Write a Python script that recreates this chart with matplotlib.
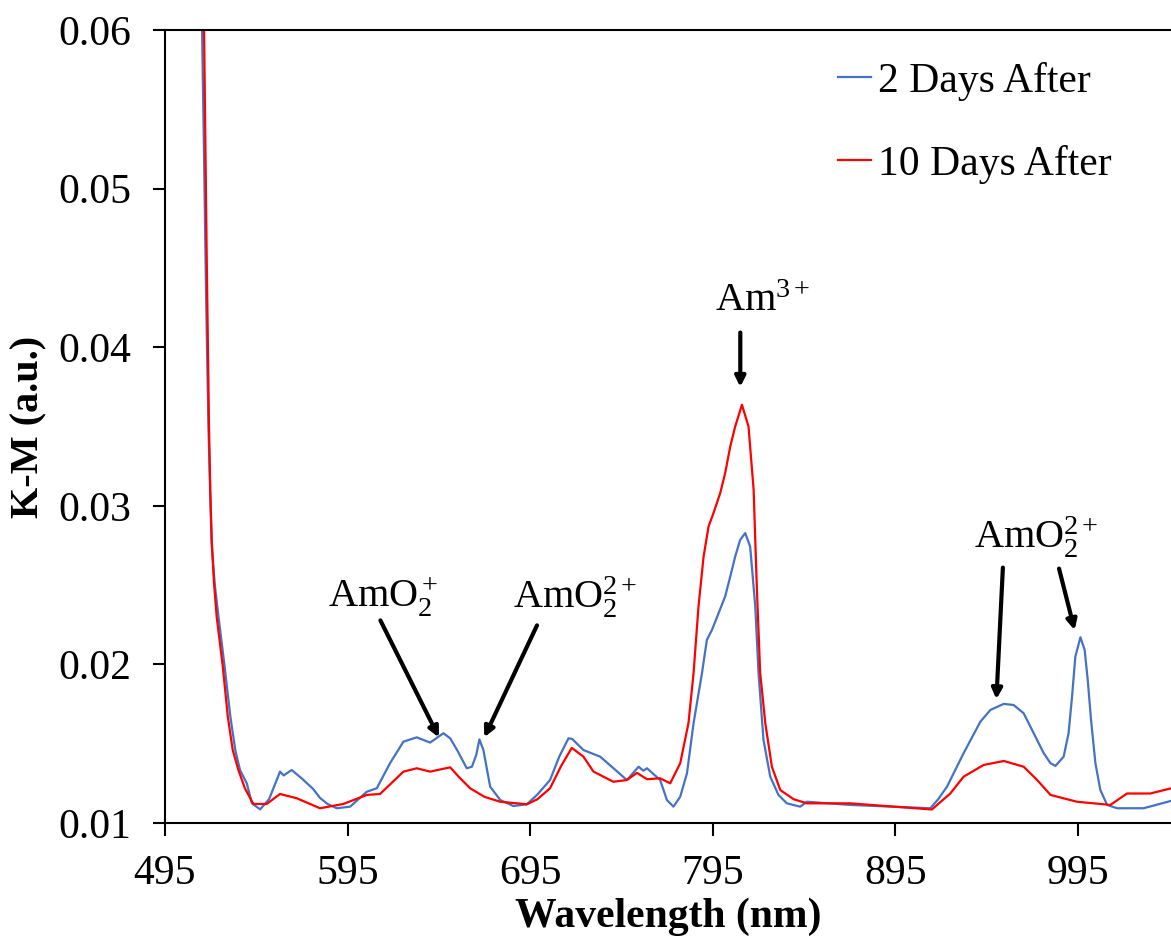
import matplotlib
matplotlib.use("Agg")
import matplotlib.pyplot as plt

plt.rcParams["font.family"] = ["Liberation Serif", "DejaVu Serif"]
plt.rcParams["mathtext.fontset"] = "custom"
plt.rcParams["mathtext.rm"] = "Liberation Serif"
plt.rcParams["mathtext.it"] = "Liberation Serif:italic"

# 2 days after (wavelength nm, K-M)
wl_2d = [514.5, 515.3, 516.4, 517.5, 518.8, 519.8, 520.6, 522.3, 524.3, 527.6,
         530.8, 533.5, 536.1, 539.8, 542.6, 547.1, 552.0, 558.0, 560.0, 564.4,
         570.0, 576.1, 579.9, 584.0, 589.1, 596.4, 605.5, 611.0, 618.3, 625.6,
         632.9, 640.2, 647.5, 651.2, 655.0, 660.3, 663.1, 665.5, 667.2, 669.4,
         673.1, 678.6, 685.8, 693.2, 699.0, 705.9, 711.0, 716.0, 718.0, 724.2,
         733.4, 748.0, 754.4, 757.0, 759.0, 766.2, 769.9, 773.5, 777.2, 780.9,
         784.5, 789.1, 791.8, 794.6, 798.2, 801.8, 804.6, 807.3, 810.0, 812.8,
         815.5, 818.3, 820.1, 822.8, 826.5, 831.0, 835.6, 842.9, 846.6, 870.3,
         914.2, 918.5, 923.3, 932.4, 941.6, 947.1, 954.4, 959.8, 965.3, 970.8,
         976.3, 980.0, 982.7, 987.2, 989.9, 991.8, 993.6, 996.4, 998.7, 1000.4,
         1002.2, 1004.6, 1007.3, 1011.0, 1016.5, 1031.0, 1046.2]
km_2d = [0.075, 0.060, 0.052, 0.0433, 0.035, 0.0305, 0.0275, 0.0250, 0.02301, 0.01992,
         0.01671, 0.0146, 0.01334, 0.0125, 0.01124, 0.01086, 0.0115, 0.01324, 0.0130, 0.01334,
         0.0128, 0.01215, 0.01158, 0.0112, 0.01093, 0.01103, 0.01197, 0.01219, 0.01378, 0.01513,
         0.0154, 0.01507, 0.01566, 0.01534, 0.0146, 0.01345, 0.01355, 0.0143, 0.01527, 0.0146,
         0.01229, 0.01145, 0.01107, 0.01118, 0.0118, 0.01271, 0.0142, 0.01534, 0.0153, 0.0146,
         0.01418, 0.01271, 0.01355, 0.0133, 0.01345, 0.01271, 0.01145, 0.01103, 0.01166, 0.01314,
         0.01629, 0.01944, 0.02155, 0.02218, 0.02323, 0.02428, 0.02554, 0.0268, 0.02785, 0.02828,
         0.02743, 0.02365, 0.01944, 0.01524, 0.01292, 0.01177, 0.01124, 0.01103, 0.01134, 0.01114,
         0.01093, 0.0115, 0.01229, 0.0144, 0.01639, 0.01713, 0.01751, 0.01744, 0.01692, 0.01566,
         0.0144, 0.01377, 0.0136, 0.01418, 0.01566, 0.01797, 0.02049, 0.02171, 0.02091, 0.01902,
         0.0165, 0.01377, 0.01208, 0.01114, 0.01093, 0.01093, 0.0114]

# 10 days after
wl_10d = [515.5, 516.4, 517.8, 519.1, 519.8, 520.6, 521.8, 523.3, 526.6, 529.4,
          532.1, 535.2, 538.8, 543.4, 550.7, 558.0, 567.2, 579.9, 592.7, 605.5,
          612.8, 625.6, 632.9, 640.2, 651.2, 656.0, 662.1, 670.0, 678.6, 693.2,
          699.0, 705.9, 712.0, 717.8, 724.2, 729.7, 740.6, 748.0, 753.5, 759.0,
          766.2, 771.7, 777.2, 781.7, 784.5, 787.2, 790.0, 792.7, 795.4, 799.1,
          801.8, 804.6, 807.3, 811.0, 814.6, 817.4, 819.2, 821.0, 823.8, 827.4,
          832.0, 839.3, 846.6, 870.3, 915.0, 925.1, 932.4, 943.4, 954.4, 965.3,
          972.7, 980.0, 994.5, 1012.8, 1021.9, 1034.7, 1046.2]
km_10d = [0.075, 0.060, 0.0461, 0.035, 0.0310, 0.0278, 0.0252, 0.02301, 0.01992, 0.01671,
          0.0146, 0.01334, 0.01218, 0.0112, 0.0112, 0.01183, 0.01156, 0.01093, 0.0112, 0.01177,
          0.01183, 0.01324, 0.01345, 0.01324, 0.01351, 0.0129, 0.01219, 0.01165, 0.01134, 0.01118,
          0.0115, 0.01219, 0.0136, 0.01474, 0.01418, 0.01324, 0.0126, 0.01271, 0.01316, 0.01276,
          0.01282, 0.0125, 0.01377, 0.01629, 0.01944, 0.02365, 0.0268, 0.02869, 0.02954, 0.0308,
          0.03206, 0.03374, 0.035, 0.03637, 0.035, 0.03101, 0.0247, 0.01944, 0.01629, 0.01355,
          0.01208, 0.0115, 0.01124, 0.01124, 0.01085, 0.01186, 0.01292, 0.01366, 0.01391, 0.01355,
          0.01271, 0.01177, 0.01134, 0.01114, 0.01186, 0.01186, 0.01219]

x_ticks = [495, 595, 695, 795, 895, 995]
y_ticks = [0.01, 0.02, 0.03, 0.04, 0.05, 0.06]

fig = plt.figure(figsize=(11.71, 9.41), dpi=100)
ax = fig.add_axes([0.1409, 0.1254, 0.8591, 0.8427])

ax.plot(wl_2d, km_2d, color="#4472C4", lw=1.6, label="2 Days After")
ax.plot(wl_10d, km_10d, color="#FF0000", lw=1.6, label="10 Days After")

ax.set_xlim(495, 1046)
ax.set_ylim(0.01, 0.06)

ax.set_xticks(x_ticks)
ax.set_xticklabels([str(v) for v in x_ticks])
ax.tick_params(axis="x", direction="out", length=9, width=1.5, labelsize=30, pad=14)
ax.set_yticks(y_ticks)
ax.set_yticklabels([f"{v:.2f}" for v in y_ticks])
ax.tick_params(axis="y", direction="out", length=9, width=1.5, labelsize=30, pad=15)

ax.spines["right"].set_visible(False)
for s in ["left", "bottom", "top"]:
    ax.spines[s].set_linewidth(1.5)

ax.set_xlabel("Wavelength (nm)", fontsize=30, fontweight="bold", labelpad=3)
ax.set_ylabel("K-M (a.u.)", fontsize=29, fontweight="bold", labelpad=8)

ax.legend(loc="upper left", bbox_to_anchor=(838 / 1171, 1 - 62 / 941),
          bbox_transform=fig.transFigure, frameon=False, fontsize=30,
          handlelength=0.8, handletextpad=0.15, labelspacing=1.05,
          borderpad=0, borderaxespad=0)

arrow = dict(arrowstyle="-|>,head_length=0.6,head_width=0.3", color="black", lw=3)
fs = 29
ax.text(614.5, 0.0242, r"AmO$_2^+$", fontsize=fs, ha="center", va="center")
ax.annotate("", xy=(645.7, 0.01524), xytext=(612.3, 0.02293), arrowprops=arrow)
ax.text(719.7, 0.02426, r"AmO$_2^{2+}$", fontsize=fs, ha="center", va="center")
ax.annotate("", xy=(669.2, 0.01524), xytext=(699.4, 0.02262), arrowprops=arrow)
ax.text(822.1, 0.04287, r"Am$^{3+}$", fontsize=fs, ha="center", va="center")
ax.annotate("", xy=(810.1, 0.03732), xytext=(810.1, 0.0411), arrowprops=arrow)
ax.text(972.3, 0.02804, r"AmO$_2^{2+}$", fontsize=fs, ha="center", va="center")
ax.annotate("", xy=(950.3, 0.01763), xytext=(954.0, 0.02628), arrowprops=arrow)
ax.annotate("", xy=(993.6, 0.02199), xytext=(984.3, 0.02621), arrowprops=arrow)

fig.savefig("out.png", dpi=100)
